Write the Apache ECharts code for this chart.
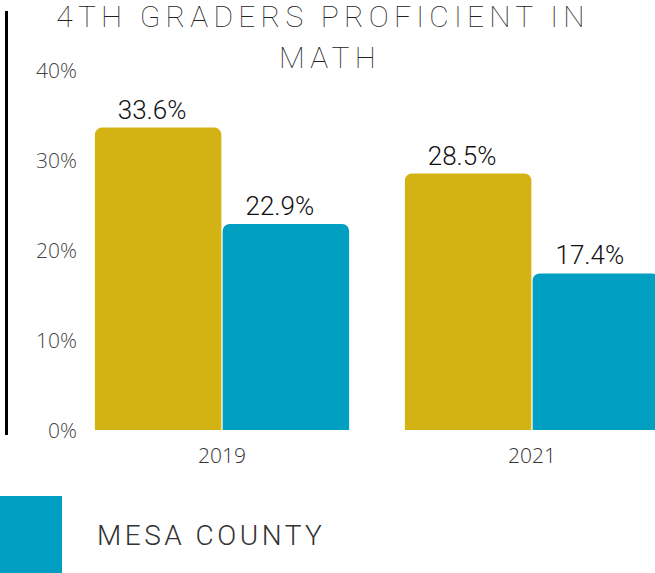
<!DOCTYPE html>
<html><head><meta charset="utf-8">
<script src="https://cdn.jsdelivr.net/npm/echarts@6/dist/echarts.min.js"></script>
<style>
html,body{margin:0;padding:0;background:#fff;overflow:hidden;width:655px;height:573px}
#main{width:687px;height:573px}
#main text[style*="30px"]{letter-spacing:5.2px}
#main text[style*="28px"]{letter-spacing:3.5px}
</style></head><body><div id="main"></div>
<script>
const categories = ['2019', '2021'];
const coloradoValues = [33.6, 28.5];
const mesaCountyValues = [22.9, 17.4];
const yTickLabels = ['0%', '10%', '20%', '30%', '40%'];
const titleLines = ['4TH GRADERS PROFICIENT IN', 'MATH'];

const chart = echarts.init(document.getElementById('main'), null, { renderer: 'svg' });
const gold = '#D3B313';
const teal = '#01A0C3';
const labelStyle = {
  show: true, position: 'top', distance: 5, offset: [-6, 0],
  fontFamily: 'Roboto', fontWeight: 300, fontSize: 26, color: '#111',
  formatter: p => p.value.toFixed(1) + '%'
};
const titleStyle = { fontFamily: 'Roboto', fontWeight: 100, fontSize: 30, color: '#222' };
chart.setOption({
  animation: false,
  backgroundColor: '#fff',
  title: [
    { text: titleLines[0], left: 323, top: 1, padding: 0, textAlign: 'center', textStyle: titleStyle },
    { text: titleLines[1], left: 330, top: 42, padding: 0, textAlign: 'center', textStyle: titleStyle }
  ],
  legend: {
    data: ['MESA COUNTY'], left: 0, top: 496, padding: 0,
    itemWidth: 62, itemHeight: 78, icon: 'rect', selectedMode: false,
    textStyle: { fontFamily: 'Roboto', fontWeight: 300, fontSize: 28, color: '#333', padding: [0, 0, 0, 30] }
  },
  grid: { left: 67, right: 0, top: 70, bottom: 143, containLabel: false },
  xAxis: {
    type: 'category', data: categories,
    axisLine: { show: false }, axisTick: { show: false },
    axisLabel: { margin: 14, fontFamily: 'Open Sans', fontWeight: 300, fontSize: 21, color: '#333' }
  },
  yAxis: {
    type: 'value', min: 0, max: 40, interval: 10,
    axisLine: { show: false }, axisTick: { show: false }, splitLine: { show: false },
    axisLabel: { margin: -10, fontFamily: 'Open Sans', fontWeight: 300, fontSize: 21, color: '#444',
      formatter: (v, i) => yTickLabels[i] }
  },
  graphic: [
    { type: 'rect', left: 5, top: 11, shape: { width: 3, height: 424 }, style: { fill: '#000' } }
  ],
  series: [
    { name: 'COLORADO', type: 'bar', data: coloradoValues, barWidth: 126.5, barGap: '1%',
      itemStyle: { color: gold, borderRadius: [7, 7, 0, 0] }, label: labelStyle },
    { name: 'MESA COUNTY', type: 'bar', data: mesaCountyValues, barWidth: 126.5,
      itemStyle: { color: teal, borderRadius: [7, 7, 0, 0] }, label: labelStyle }
  ]
});
</script></body></html>
